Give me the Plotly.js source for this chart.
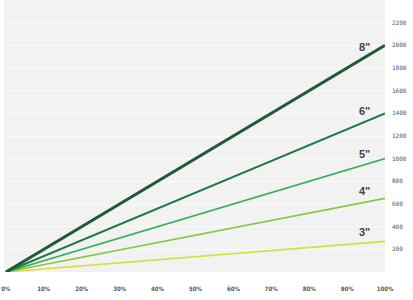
<!DOCTYPE html>
<html><head><meta charset="utf-8">
<script src="https://cdn.plot.ly/plotly-3.0.1.min.js"></script>
<style>html,body{margin:0;padding:0;background:#fff}#c{width:413px;height:300px}</style>
</head><body><div id="c"></div>
<script>
var xPct = [0, 1];
var sizes = ['3"', '4"', '5"', '6"', '8"'];
var endValues = [270, 650, 1000, 1400, 2000];
var colors = ['#d8df3c', '#8cc63f', '#3daf5e', '#1e7a45', '#1d5a35'];
var widths = [1.6, 1.6, 1.8, 2, 3];
var yTicks = [200, 400, 600, 800, 1000, 1200, 1400, 1600, 1800, 2000, 2200];
var xTicks = [0, 0.1, 0.2, 0.3, 0.4, 0.5, 0.6, 0.7, 0.8, 0.9, 1];

var traces = sizes.map(function(s, i){
  return {x: xPct, y: [0, endValues[i]], mode: 'lines', type: 'scatter',
    line: {color: colors[i], width: widths[i]}, hoverinfo: 'none', showlegend: false};
});
var annots = sizes.map(function(s, i){
  return {x: 0.945, y: endValues[i]*0.945, xref: 'x', yref: 'y', text: s, showarrow: false,
    yanchor: 'bottom', yshift: 3, font: {family: 'Liberation Sans Narrow, Arial Narrow, sans-serif', size: 11, color: '#444', weight: 'bold'}};
});
var layout = {
  width: 413, height: 300,
  margin: {l: 4, r: 28, t: 0, b: 28},
  paper_bgcolor: '#fff', plot_bgcolor: '#f2f2f2',
  xaxis: {range: [-0.005, 1], tickvals: xTicks, tickformat: '.0%', showgrid: false, zeroline: false,
    ticks: '', tickfont: {family: 'DejaVu Sans Condensed, sans-serif', size: 6, color: '#555', weight: 'bold'}, ticklabelstandoff: 12, fixedrange: true},
  yaxis: {range: [0, 2400], side: 'right', tickvals: yTicks, showgrid: true, gridcolor: '#fafafa', gridwidth: 1, zeroline: false,
    ticks: '', tickfont: {family: 'DejaVu Sans Mono, monospace', size: 6, color: '#555'}, ticklabelstandoff: 6, fixedrange: true},
  annotations: annots
};
Plotly.newPlot('c', traces, layout, {displayModeBar: false, staticPlot: true});
</script></body></html>
